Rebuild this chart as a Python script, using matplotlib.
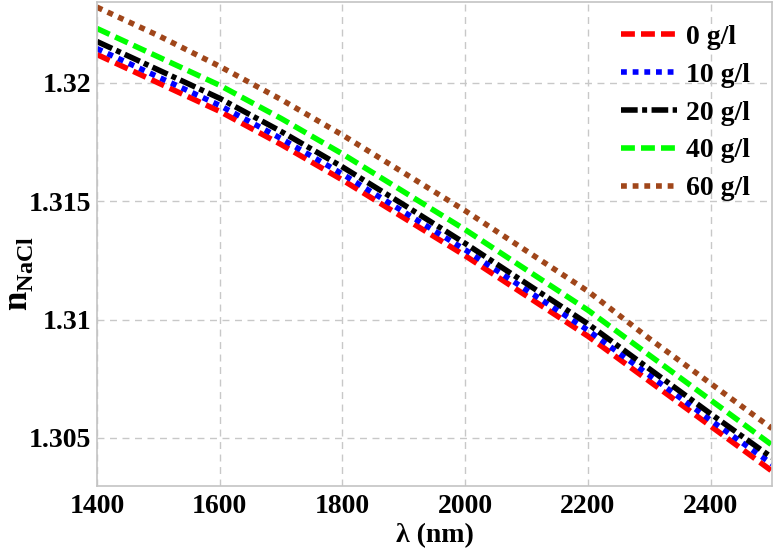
import matplotlib
matplotlib.use("Agg")
import matplotlib.pyplot as plt

# data
wl = [1400, 1500, 1600, 1700, 1800, 1900, 2000, 2100, 2200, 2300, 2400, 2500]
n_0 = [1.3212, 1.3200, 1.3188, 1.3174, 1.3159, 1.3143, 1.3127, 1.3110, 1.3093, 1.3074, 1.3055, 1.3036]
n_10 = [1.32145, 1.32025, 1.31905, 1.31765, 1.31615, 1.31455, 1.31295, 1.31125, 1.30955, 1.30765, 1.30575, 1.30390]
n_20 = [1.32175, 1.32055, 1.31935, 1.31795, 1.31645, 1.31485, 1.31322, 1.31152, 1.30982, 1.30792, 1.30602, 1.30417]
n_40 = [1.3223, 1.3211, 1.3199, 1.3185, 1.3170, 1.3154, 1.3138, 1.3121, 1.3104, 1.3085, 1.3066, 1.3047]
n_60 = [1.3232, 1.3220, 1.3207, 1.3193, 1.3178, 1.3162, 1.3146, 1.3129, 1.3112, 1.3092, 1.3073, 1.3054]
labels = ["0 g/l", "10 g/l", "20 g/l", "40 g/l", "60 g/l"]

plt.rcParams["font.family"] = ["Liberation Serif", "DejaVu Serif"]
plt.rcParams["font.weight"] = "bold"
plt.rcParams["mathtext.fontset"] = "custom"
plt.rcParams["mathtext.rm"] = "Liberation Serif"
plt.rcParams["mathtext.bf"] = "Liberation Serif:bold"

fig = plt.figure(figsize=(7.74, 5.53), dpi=100)
ax = fig.add_axes([0.1253, 0.1212, 0.8721, 0.8752])

lw = 4
ax.plot(wl, n_0, color="#ff0000", lw=lw, dashes=(2.5, 1.1), label=labels[0])
ax.plot(wl, n_10, color="#0000ff", lw=lw, dashes=(1.05, 1.05), label=labels[1])
ax.plot(wl, n_20, color="black", lw=lw, dashes=(3, 0.8, 0.9, 0.8), label=labels[2])
ax.plot(wl, n_40, color="#00ff00", lw=lw, dashes=(2.5, 1.1), label=labels[3])
ax.plot(wl, n_60, color="#a0461a", lw=lw, dashes=(1.05, 1.05), label=labels[4])

ax.set_xlim(1400, 2500)
ax.set_ylim(1.30297, 1.32342)
ax.set_xticks([1400, 1600, 1800, 2000, 2200, 2400])
ax.set_yticks([1.305, 1.31, 1.315, 1.32])
ax.set_yticklabels(["1.305", "1.31", "1.315", "1.32"])
ax.tick_params(length=0, labelsize=20)
ax.tick_params(axis="x", pad=6)
ax.tick_params(axis="y", pad=4)
for lab in ax.get_xticklabels() + ax.get_yticklabels():
    lab.set_fontweight("bold")

ax.grid(True, color="#c8c8c8", linestyle=(0, (5, 4)), linewidth=1.0)
for s in ax.spines.values():
    s.set_color("#c4c4c4")
    s.set_linewidth(1.2)

ax.set_xlabel("λ (nm)", fontsize=20, fontweight="bold", labelpad=3)
ax.set_ylabel(r"$\mathbf{n}_{\mathrm{NaCl}}$", fontsize=25)
ax.yaxis.set_label_coords(-0.092, 0.44)

leg = ax.legend(loc="upper right", frameon=False, fontsize=20, handlelength=2.0,
                labelspacing=0.45, handletextpad=0.32, borderaxespad=0.4)
for t in leg.get_texts():
    t.set_fontweight("bold")

fig.savefig("out.png", dpi=100)
